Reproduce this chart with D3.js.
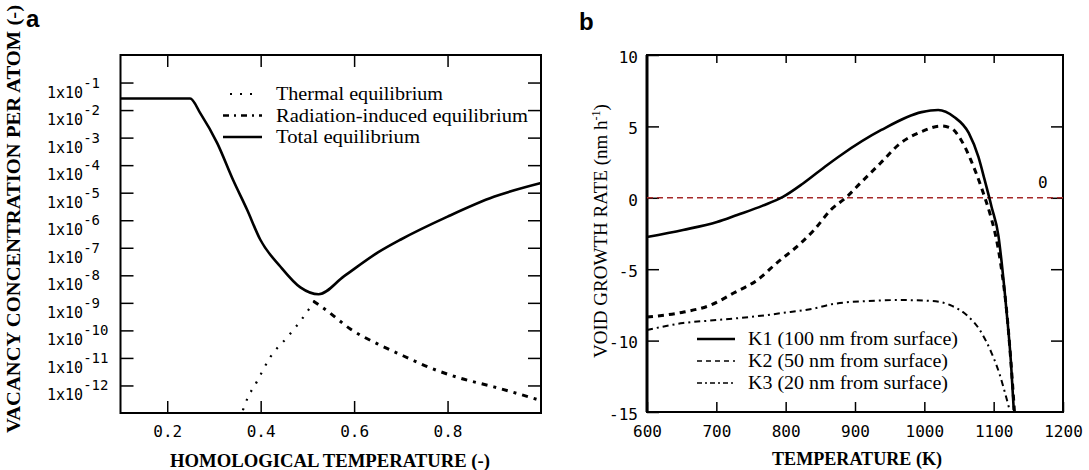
<!DOCTYPE html>
<html>
<head>
<meta charset="utf-8">
<script src="https://cdn.jsdelivr.net/npm/d3@7"></script>
<style>
  body { margin: 0; background: #fff; }
  svg { display: block; }
  .tick line { stroke: #000; stroke-width: 1.5; }
</style>
</head>
<body>
<svg id="chart" width="1089" height="470"></svg>
<script>
// ---- panel a: vacancy concentration (log10 of value) vs homological temperature
const homTempTotal = [0.1, 0.249, 0.271, 0.307, 0.341, 0.371, 0.399, 0.442, 0.485, 0.524, 0.578, 0.651, 0.700, 0.800, 0.899, 1.0]
const totalLog10   = [-1.58, -1.58, -2.12, -3.20, -4.54, -5.62, -6.70, -7.68, -8.44, -8.69, -8.04, -7.17, -6.70, -5.87, -5.15, -4.65]

const homTempThermal = [0.362, 0.367, 0.393, 0.421, 0.459, 0.496, 0.524]
const thermalLog10   = [-12.9, -12.66, -11.83, -10.96, -10.21, -9.41, -8.69]

const homTempRad = [0.513, 0.543, 0.592, 0.650, 0.706, 0.757, 0.828, 0.899, 1.0]
const radLog10   = [-8.94, -9.30, -9.95, -10.49, -10.93, -11.32, -11.74, -12.05, -12.55]

const homTicks = [0.2, 0.4, 0.6, 0.8]
const decadeTicks = [-1, -2, -3, -4, -5, -6, -7, -8, -9, -10, -11, -12]
const legendA = ['Thermal equilibrium', 'Radiation-induced equilibrium', 'Total equilibrium']

// ---- panel b: void growth rate vs temperature
const tempK1 = [600, 652, 701, 730, 767, 796, 825, 860, 880, 938, 996, 1020, 1043, 1064, 1078, 1087, 1097, 1107, 1111, 1118, 1125, 1129]
const rateK1 = [-2.75, -2.25, -1.69, -1.2, -0.55, 0.06, 1.0, 2.3, 3.0, 4.75, 6.0, 6.15, 5.66, 4.54, 2.86, 1.25, -0.64, -2.7, -4.3, -7.65, -11.57, -14.86]

const tempK2 = [600, 653, 692, 725, 759, 787, 822, 841, 865, 888, 908, 937, 966, 995, 1024, 1038, 1053, 1067, 1082, 1096, 1101, 1111, 1119, 1125, 1130]
const rateK2 = [-8.35, -8.0, -7.51, -6.67, -5.76, -4.57, -3.17, -2.25, -0.85, 0.06, 1.04, 2.44, 3.84, 4.61, 5.03, 4.89, 4.05, 2.65, 0.76, -1.34, -2.25, -4.9, -8.07, -11.57, -15]

const tempK3 = [600, 652, 701, 748, 795, 844, 868, 917, 965, 1012, 1037, 1061, 1080, 1097, 1108, 1118, 1123]
const rateK3 = [-9.26, -8.77, -8.56, -8.35, -8.07, -7.72, -7.44, -7.23, -7.16, -7.23, -7.51, -8.21, -9.26, -10.87, -12.27, -13.95, -14.86]

const tempTicks = [600, 700, 800, 900, 1000, 1100, 1200]
const rateTicks = [10, 5, 0, -5, -10, -15]
const legendB = ['K1 (100 nm from surface)', 'K2 (50 nm from surface)', 'K3 (20 nm from surface)']

const svg = d3.select('#chart')
const serif = '"Liberation Serif", "Times New Roman", serif'
const mono = '"DejaVu Sans Mono", monospace'

const zip = (xs, ys) => xs.map((x, i) => [x, ys[i]])

// ================= panel a =================
const xa = d3.scaleLinear().domain([0.1, 1.0]).range([120.5, 541])
const ya = d3.scaleLog().domain([1e-13, 1]).range([413, 55])

const lineA = d3.line()
    .x(d => xa(d[0]))
    .y(d => ya(Math.pow(10, d[1])))
    .curve(d3.curveMonotoneX)

// ticks (all pointing inwards)
const noDomain = g => g.select('.domain').remove()
svg.append('g').attr('transform', 'translate(0,413)')
    .call(d3.axisBottom(xa).tickValues(homTicks).tickSize(-12).tickPadding(13).tickFormat(d3.format('.1f')))
    .call(noDomain)
    .call(g => g.selectAll('text').attr('font-family', mono).attr('font-size', 16).attr('fill', '#000'))
svg.append('g').attr('transform', 'translate(0,55)')
    .call(d3.axisTop(xa).tickValues(homTicks).tickSize(-12).tickFormat(''))
    .call(noDomain)
const decadeVals = decadeTicks.map(e => Math.pow(10, e))
svg.append('g').attr('transform', 'translate(120.5,0)')
    .call(d3.axisLeft(ya).tickValues(decadeVals).tickSize(-13).tickFormat(''))
    .call(noDomain)
svg.append('g').attr('transform', 'translate(541,0)')
    .call(d3.axisRight(ya).tickValues(decadeVals).tickSize(-13).tickFormat(''))
    .call(noDomain)

// 1x10^n labels
const decLabels = svg.append('g').selectAll('text').data(decadeTicks).enter().append('text')
    .attr('x', 47)
    .attr('y', d => ya(Math.pow(10, d)) + 15)
    .attr('font-family', mono).attr('font-size', 15)
decLabels.append('tspan').text('1x10')
decLabels.append('tspan').attr('dy', -10).attr('font-size', 14).text(d => String(d))

svg.append('rect').attr('x', 120.5).attr('y', 55).attr('width', 541 - 120.5).attr('height', 413 - 55)
    .attr('fill', 'none').attr('stroke', '#000').attr('stroke-width', 2)

// curves
svg.append('path').datum(zip(homTempThermal, thermalLog10)).attr('d', lineA)
    .attr('fill', 'none').attr('stroke', '#000').attr('stroke-width', 2.2)
    .attr('stroke-dasharray', '2,8')
svg.append('path').datum(zip(homTempRad, radLog10)).attr('d', lineA)
    .attr('fill', 'none').attr('stroke', '#000').attr('stroke-width', 3)
    .attr('stroke-dasharray', '6,6,3,6')
svg.append('path').datum(zip(homTempTotal, totalLog10)).attr('d', lineA)
    .attr('fill', 'none').attr('stroke', '#000').attr('stroke-width', 2.6)

// legend a
const legA = svg.append('g')
const dashA = [['2,8', 2.2, 230, 254], ['6,5,2,5', 2.5, 223, 262], [null, 2.6, 223, 262]]
const legAWidth = [167, 252, 144]
legendA.forEach((label, i) => {
    const cy = 94 + i * 21.5
    legA.append('line').attr('x1', dashA[i][2]).attr('x2', dashA[i][3]).attr('y1', cy).attr('y2', cy)
        .attr('stroke', '#000').attr('stroke-width', dashA[i][1])
        .attr('stroke-dasharray', dashA[i][0])
    legA.append('text').attr('x', 276).attr('y', cy + 6)
        .attr('font-family', serif).attr('font-size', 19)
        .attr('textLength', legAWidth[i]).attr('lengthAdjust', 'spacingAndGlyphs')
        .text(label)
})

// axis titles a
svg.append('text').attr('x', 330).attr('y', 467).attr('text-anchor', 'middle')
    .attr('font-family', serif).attr('font-weight', 'bold').attr('font-size', 19)
    .attr('textLength', 320).attr('lengthAdjust', 'spacingAndGlyphs')
    .text('HOMOLOGICAL TEMPERATURE (-)')
svg.append('text').attr('transform', 'translate(20,219) rotate(-90)').attr('text-anchor', 'middle')
    .attr('font-family', serif).attr('font-weight', 'bold').attr('font-size', 19)
    .attr('textLength', 428).attr('lengthAdjust', 'spacingAndGlyphs')
    .text('VACANCY CONCENTRATION PER ATOM (-)')

svg.append('text').attr('x', 26).attr('y', 27)
    .attr('font-family', '"Liberation Sans", Arial, sans-serif').attr('font-weight', 'bold').attr('font-size', 24)
    .text('a')

// ================= panel b =================
const xb = d3.scaleLinear().domain([600, 1200]).range([647, 1063])
const yb = d3.scaleLinear().domain([-15, 10]).range([412, 55])

const lineB = d3.line()
    .x(d => xb(d[0]))
    .y(d => yb(d[1]))
    .curve(d3.curveMonotoneX)

svg.append('g').attr('transform', 'translate(0,412)')
    .call(d3.axisBottom(xb).tickValues(tempTicks).tickSize(-10).tickPadding(14).tickFormat(d => d))
    .call(noDomain)
    .call(g => g.selectAll('text').attr('font-family', mono).attr('font-size', 16).attr('fill', '#000'))
svg.append('g').attr('transform', 'translate(0,55)')
    .call(d3.axisTop(xb).tickValues(tempTicks.slice(1, -1)).tickSize(-8).tickFormat(''))
    .call(noDomain)
svg.append('g').attr('transform', 'translate(647,0)')
    .call(d3.axisLeft(yb).tickValues(rateTicks).tickSize(-12).tickPadding(9).tickFormat(d => d))
    .call(noDomain)
    .call(g => g.selectAll('text').attr('font-family', mono).attr('font-size', 16).attr('fill', '#000').attr('dy', '0.45em'))
svg.append('g').attr('transform', 'translate(1063,0)')
    .call(d3.axisRight(yb).tickValues(rateTicks.slice(1, -1)).tickSize(-12).tickFormat(''))
    .call(noDomain)

svg.append('path').attr('d', `M647,55V412`).attr('stroke', '#000').attr('stroke-width', 3)
svg.append('rect').attr('x', 647).attr('y', 55).attr('width', 1063 - 647).attr('height', 412 - 55)
    .attr('fill', 'none').attr('stroke', '#000').attr('stroke-width', 2)

// zero reference
svg.append('line').attr('x1', xb(600)).attr('x2', xb(1200)).attr('y1', yb(0)).attr('y2', yb(0))
    .attr('stroke', '#a52a2a').attr('stroke-width', 1.6).attr('stroke-dasharray', '6,4')
svg.append('text').attr('x', xb(1171)).attr('y', yb(0) - 10).attr('text-anchor', 'middle')
    .attr('font-family', mono).attr('font-size', 16).text('0')

svg.append('path').datum(zip(tempK3, rateK3)).attr('d', lineB)
    .attr('fill', 'none').attr('stroke', '#000').attr('stroke-width', 2)
    .attr('stroke-dasharray', '6,4,2,4')
svg.append('path').datum(zip(tempK2, rateK2)).attr('d', lineB)
    .attr('fill', 'none').attr('stroke', '#000').attr('stroke-width', 3)
    .attr('stroke-dasharray', '6,5')
svg.append('path').datum(zip(tempK1, rateK1)).attr('d', lineB)
    .attr('fill', 'none').attr('stroke', '#000').attr('stroke-width', 2.6)

// legend b
const legB = svg.append('g')
const dashB = [[null, 2.6], ['5,4', 1.6], ['5,3,2,3', 1.6]]
const legBWidth = [210, 200, 200]
legendB.forEach((label, i) => {
    const cy = 339 + i * 22
    legB.append('line').attr('x1', 697).attr('x2', 735).attr('y1', cy).attr('y2', cy)
        .attr('stroke', '#000').attr('stroke-width', dashB[i][1])
        .attr('stroke-dasharray', dashB[i][0])
    legB.append('text').attr('x', 748).attr('y', cy + 6)
        .attr('font-family', serif).attr('font-size', 19)
        .attr('textLength', legBWidth[i]).attr('lengthAdjust', 'spacingAndGlyphs')
        .text(label)
})

// axis titles b
svg.append('text').attr('x', 857).attr('y', 465).attr('text-anchor', 'middle')
    .attr('font-family', serif).attr('font-weight', 'bold').attr('font-size', 19)
    .attr('textLength', 170).attr('lengthAdjust', 'spacingAndGlyphs')
    .text('TEMPERATURE (K)')
const yTitleB = svg.append('text').attr('transform', 'translate(607,231) rotate(-90)').attr('text-anchor', 'middle')
    .attr('font-family', serif).attr('font-size', 19)
yTitleB.append('tspan').text('VOID GROWTH RATE (nm h')
yTitleB.append('tspan').attr('dy', -7).attr('font-size', 12).text('-1')
yTitleB.append('tspan').attr('dy', 7).text(')')

svg.append('text').attr('x', 579).attr('y', 30)
    .attr('font-family', '"Liberation Sans", Arial, sans-serif').attr('font-weight', 'bold').attr('font-size', 24)
    .text('b')
</script>
</body>
</html>
